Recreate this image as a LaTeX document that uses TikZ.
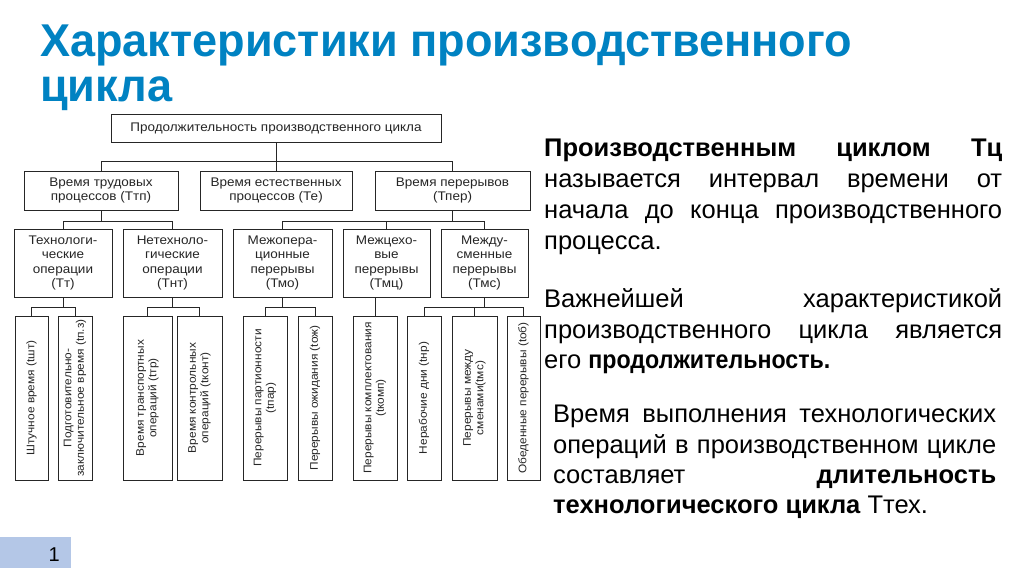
\documentclass[tikz,border=0pt]{standalone}
\usepackage{fontspec}
\usepackage{graphicx}
\setmainfont{Liberation Sans}
\newfontfamily\titlefont[FakeStretch=0.98]{Liberation Sans Bold}
\newfontfamily\diagfont[FakeStretch=1.08]{Liberation Sans}
\definecolor{titleblue}{RGB}{0,130,194}
\definecolor{pgblue}{RGB}{180,199,231}
\newcommand{\jline}[5]{\node[rtxt, anchor=base west] (#1) at (#2,#3) {\makebox[#4pt][s]{#5}};}
\newcommand{\pline}[4]{\node[rtxt, anchor=base west] (#1) at (#2,#3) {#4};}
\begin{document}
\begin{tikzpicture}[x=1pt,y=-1pt,
  box/.style={draw=black!85, line width=0.7pt, inner sep=1pt, align=center,
    font=\diagfont\fontsize{12.5}{14.5}\selectfont, text=black!85},
  vbox/.style={box, rotate=90, minimum width=164pt, font=\diagfont\fontsize{11}{12.5}\selectfont},
  conn/.style={draw=black!85, line width=0.7pt},
  rtxt/.style={inner sep=0pt, font=\fontsize{25.5}{31}\selectfont, text=black}]
\useasboundingbox (0,0) rectangle (1024,574);
\fill[white] (0,0) rectangle (1024,574);
% title
\node[anchor=base west, inner sep=0pt, text=titleblue, font=\titlefont\fontsize{46}{46}\selectfont] (t1) at (40,56) {Характеристики производственного};
\node[anchor=base west, inner sep=0pt, text=titleblue, font=\titlefont\fontsize{46}{46}\selectfont] (t2) at (40,101) {цикла};
% level 1
\node[box, minimum width=330pt, minimum height=28pt] (top) at (276,128) {Продолжительность производственного цикла};
% level 2
\node[box, minimum width=154pt, minimum height=39pt] (ttp) at (101,190.5) {Время трудовых\\процессов (Ттп)};
\node[box, minimum width=152pt, minimum height=39pt] (te) at (276,190.5) {Время естественных\\процессов (Те)};
\node[box, minimum width=155pt, minimum height=39pt] (tper) at (452.5,190.5) {Время перерывов\\(Тпер)};
% level 3
\node[box, minimum width=98pt, minimum height=68pt] (tt) at (63,263) {Технологи-\\ческие\\операции\\(Тт)};
\node[box, minimum width=99pt, minimum height=68pt] (tnt) at (172.5,263) {Нетехноло-\\гические\\операции\\(Тнт)};
\node[box, minimum width=99pt, minimum height=68pt] (tmo) at (282.5,263) {Межопера-\\ционные\\перерывы\\(Тмо)};
\node[box, minimum width=87pt, minimum height=68pt] (tmc) at (386.5,263) {Межцехо-\\вые\\перерывы\\(Тмц)};
\node[box, minimum width=87pt, minimum height=68pt] (tms) at (484.5,263) {Между-\\сменные\\перерывы\\(Тмс)};
% level 4
\node[vbox, minimum height=33pt] (a1) at (31.5,398) {Штучное время (tшт)};
\node[vbox, minimum height=34pt] (a2) at (75,398) {Подготовительно-\\заключительное время (tп.з)};
\node[vbox, minimum height=49pt] (a3) at (147.5,398) {Время транспортных\\операций (tтр)};
\node[vbox, minimum height=45pt] (a4) at (199.5,398) {Время контрольных\\операций (tконт)};
\node[vbox, minimum height=44pt] (a5) at (265,398) {Перерывы партионности\\(tпар)};
\node[vbox, minimum height=34pt] (a6) at (315,398) {Перерывы ожидания (tож)};
\node[vbox, minimum height=44pt] (a7) at (375,398) {Перерывы комплектования\\(tкомп)};
\node[vbox, minimum height=34pt] (a8) at (424,398) {Нерабочие дни (tнр)};
\node[vbox, minimum height=45pt] (a9) at (474.5,398) {Перерывы между\\сменами(tмс)};
\node[vbox, minimum height=33pt] (a10) at (523.5,398) {Обеденные перерывы (tоб)};
% connectors level 1-2
\coordinate (b1) at (0,161);
\draw[conn] (top.south) -- (top.south |- b1);
\draw[conn] (ttp.north) |- (tper.north |- b1) -- (tper.north);
\draw[conn] (te.north) -- (te.north |- b1);
% level 2-3
\coordinate (b2) at (0,221);
\draw[conn] (ttp.south) -- (ttp.south |- b2);
\draw[conn] (tt.north) |- (tnt.north |- b2) -- (tnt.north);
\draw[conn] (tper.south) -- (tper.south |- b2);
\draw[conn] (tmo.north) |- (tms.north |- b2) -- (tms.north);
\draw[conn] (tmc.north) -- (tmc.north |- b2);
% level 3-4
\coordinate (b3) at (0,307);
\draw[conn] (tt.south) -- (tt.south |- b3);
\draw[conn] (a1.east) |- (a2.east |- b3) -- (a2.east);
\draw[conn] (tnt.south) -- (tnt.south |- b3);
\draw[conn] (a3.east) |- (a4.east |- b3) -- (a4.east);
\draw[conn] (tmo.south) -- (tmo.south |- b3);
\draw[conn] (a5.east) |- (a6.east |- b3) -- (a6.east);
\draw[conn] (a7.east) -- (a7.east |- tmc.south);
\draw[conn] (tms.south) -- (tms.south |- b3);
\draw[conn] (a8.east) |- (a10.east |- b3) -- (a10.east);
\draw[conn] (a9.east) -- (a9.east |- b3);
% right text
\jline{p1a}{544}{156}{458}{\textbf{Производственным циклом Тц}}
\jline{p1b}{544}{187}{458}{называется интервал времени от}
\jline{p1c}{544}{218}{458}{начала до конца производственного}
\pline{p1d}{544}{249}{процесса.}
\jline{p2a}{544}{307}{458}{Важнейшей характеристикой}
\jline{p2b}{544}{338}{458}{производственного цикла является}
\pline{p2c}{544}{368}{его \scalebox{0.91}[1]{\textbf{продолжительность.}}}
\jline{p3a}{553}{422}{443}{Время выполнения технологических}
\jline{p3b}{553}{453}{443}{операций в производственном цикле}
\jline{p3c}{553}{483}{443}{составляет \textbf{длительность}}
\pline{p3d}{553}{513}{\textbf{технологического цикла} Ттех.}
% page number
\fill[pgblue] (0,537) rectangle (71,568);
\node[anchor=base east, inner sep=0pt, font=\fontsize{20}{20}\selectfont] (pg) at (60,561) {1};
\end{tikzpicture}
\end{document}
